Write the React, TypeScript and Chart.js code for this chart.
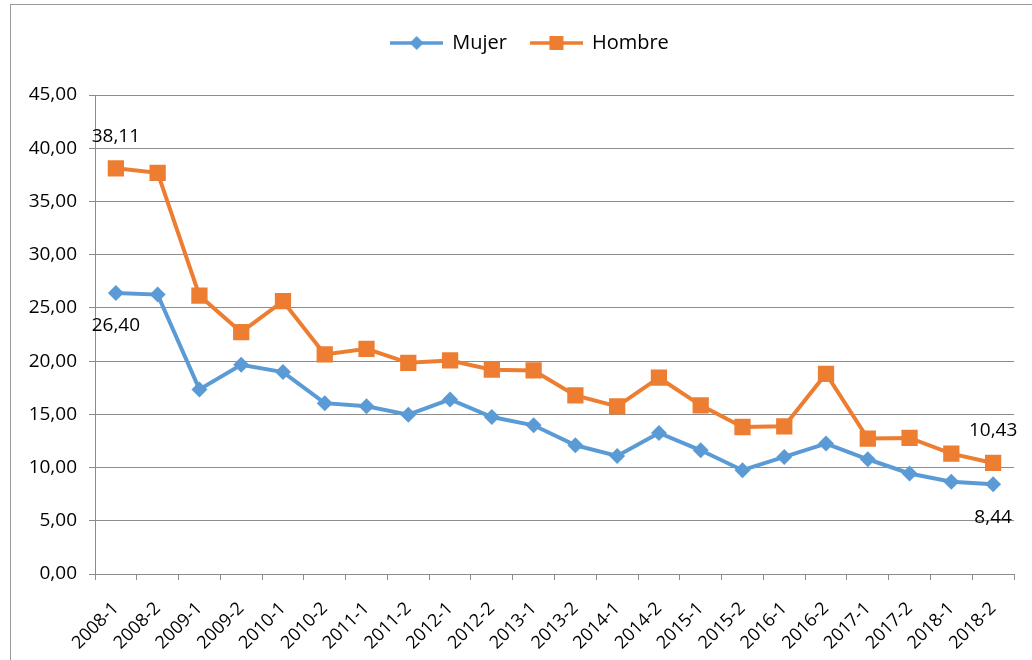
import React, { useEffect, useRef } from 'react';
import { Chart, registerables, layouts } from 'chart.js';

Chart.register(...registerables);

const categories = [
  '2008-1', '2008-2', '2009-1', '2009-2', '2010-1', '2010-2', '2011-1', '2011-2',
  '2012-1', '2012-2', '2013-1', '2013-2', '2014-1', '2014-2', '2015-1', '2015-2',
  '2016-1', '2016-2', '2017-1', '2017-2', '2018-1', '2018-2',
];
const mujer = [
  26.40, 26.25, 17.34, 19.66, 18.97, 16.05, 15.75, 14.97, 16.40, 14.75, 13.97,
  12.09, 11.09, 13.25, 11.62, 9.75, 11.00, 12.25, 10.78, 9.44, 8.66, 8.44,
];
const hombre = [
  38.11, 37.69, 26.16, 22.72, 25.63, 20.63, 21.16, 19.84, 20.06, 19.19, 19.12,
  16.78, 15.75, 18.44, 15.84, 13.81, 13.87, 18.81, 12.72, 12.78, 11.31, 10.43,
];
const seriesNames = ['Mujer', 'Hombre'];
const yTicks = { min: 0, max: 45, step: 5 };
// indices of points that carry a value label
const labelledIdx = [0, 21];

const BLUE = '#5B9BD5';
const ORANGE = '#ED7D31';
const GRID = '#8c8c8c';
const FONT = "'Open Sans', 'DejaVu Sans', sans-serif";

const fmt = (v: number) => v.toFixed(2).replace('.', ',');

function makeIcon(color: string, shape: 'diamond' | 'square'): HTMLCanvasElement {
  const c = document.createElement('canvas');
  c.width = 53;
  c.height = 20;
  const ctx = c.getContext('2d')!;
  ctx.strokeStyle = color;
  ctx.fillStyle = color;
  ctx.lineWidth = 3.5;
  ctx.beginPath();
  ctx.moveTo(0, 10);
  ctx.lineTo(53, 10);
  ctx.stroke();
  ctx.beginPath();
  if (shape === 'diamond') {
    ctx.moveTo(26.5 - 7, 10);
    ctx.lineTo(26.5, 3);
    ctx.lineTo(26.5 + 7, 10);
    ctx.lineTo(26.5, 17);
    ctx.closePath();
  } else {
    ctx.rect(26.5 - 7, 3, 14, 14);
  }
  ctx.fill();
  return c;
}

const spacerPlugin = {
  id: 'spacer',
  beforeInit(chart: any) {
    const box: any = {
      position: 'top',
      weight: 1,
      fullSize: true,
      options: {},
      top: 0, left: 0, right: 0, bottom: 0, width: 0, height: 0,
      isHorizontal: () => true,
      update(maxWidth: number) {
        box.width = maxWidth;
        box.height = 32;
      },
      draw() {},
    };
    layouts.addBox(chart, box);
  },
  afterLayout(chart: any) {
    // centre the legend where the original places it
    if (chart.legend) chart.legend.left += 46;
  },
};

const valueLabelPlugin = {
  id: 'valueLabels',
  afterDatasetsDraw(chart: any) {
    const ctx = chart.ctx;
    ctx.save();
    ctx.font = `19px ${FONT}`;
    ctx.fillStyle = '#000';
    ctx.textAlign = 'center';
    ctx.textBaseline = 'middle';
    chart.data.datasets.forEach((ds: any, di: number) => {
      const meta = chart.getDatasetMeta(di);
      labelledIdx.forEach((i) => {
        const pt = meta.data[i];
        if (!pt) return;
        const off = di === 1 ? -32 : 33;
        ctx.fillText(fmt(ds.data[i]), pt.x, pt.y + off);
      });
    });
    ctx.restore();
  },
};

export default function App() {
  const ref = useRef<HTMLCanvasElement>(null);

  useEffect(() => {
    if (!ref.current) return;
    const icons = [makeIcon(BLUE, 'diamond'), makeIcon(ORANGE, 'square')];
    const chart = new Chart(ref.current, {
      type: 'line',
      data: {
        labels: categories,
        datasets: [
          {
            label: seriesNames[0],
            data: mujer,
            borderColor: BLUE,
            backgroundColor: BLUE,
            borderWidth: 4,
            pointStyle: 'rectRot',
            pointRadius: 8,
            pointBorderWidth: 0,
            pointBackgroundColor: BLUE,
            tension: 0,
          },
          {
            label: seriesNames[1],
            data: hombre,
            borderColor: ORANGE,
            backgroundColor: ORANGE,
            borderWidth: 4,
            pointStyle: 'rect',
            pointRadius: 11.5,
            pointBorderWidth: 0,
            pointBackgroundColor: ORANGE,
            tension: 0,
          },
        ],
      },
      options: {
        responsive: false,
        animation: false,
        layout: { padding: { top: 9, right: 18, left: 0, bottom: 0 } },
        plugins: {
          tooltip: { enabled: false },
          legend: {
            position: 'top',
            labels: {
              usePointStyle: true,
              pointStyleWidth: 51,
              padding: 24,
              color: '#000',
              font: { family: FONT, size: 20 },
              generateLabels: (ch: any) =>
                ch.data.datasets.map((ds: any, i: number) => ({
                  text: ds.label,
                  pointStyle: icons[i],
                  fillStyle: ds.borderColor,
                  strokeStyle: ds.borderColor,
                  lineWidth: 0,
                  hidden: false,
                  datasetIndex: i,
                  fontColor: '#000',
                })),
            },
          },
        },
        scales: {
          x: {
            offset: true,
            grid: {
              offset: true,
              drawOnChartArea: false,
              drawTicks: true,
              tickLength: 6,
              color: GRID,
            },
            border: { color: GRID, width: 1 },
            ticks: {
              autoSkip: false,
              maxRotation: 45,
              minRotation: 45,
              padding: 18,
              color: '#000',
              font: { family: FONT, size: 18 },
            },
            afterFit: (s: any) => { s.height = 86; },
          },
          y: {
            min: yTicks.min,
            max: yTicks.max,
            ticks: {
              stepSize: yTicks.step,
              padding: 12,
              color: '#000',
              font: { family: FONT, size: 19 },
              callback: (v: any) => fmt(Number(v)),
            },
            grid: { color: GRID, tickLength: 6, drawTicks: true },
            border: { color: GRID, width: 1 },
            afterFit: (s: any) => { s.width = 95; },
          },
        },
      },
      plugins: [spacerPlugin, valueLabelPlugin],
    });
    return () => chart.destroy();
  }, []);

  return (
    <div style={{ position: 'fixed', left: 0, top: 0, width: 1032, height: 660, overflow: 'hidden', background: '#fff' }}>
      <div style={{ position: 'absolute', left: 10, top: 4, width: 1100, height: 700, border: '1px solid #9a9a9a' }} />
      <canvas ref={ref} width={1032} height={660} style={{ position: 'absolute', left: 0, top: 0 }} />
    </div>
  );
}
